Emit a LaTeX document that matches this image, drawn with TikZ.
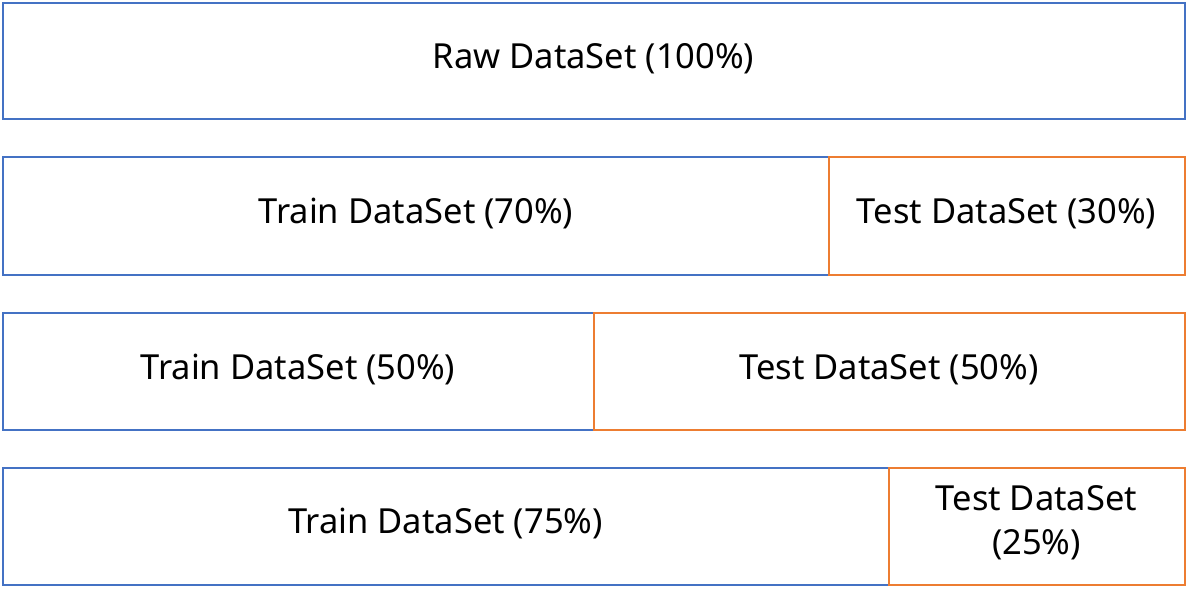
\documentclass[tikz,border=0pt]{standalone}
\usepackage{fontspec}
\setmainfont{Noto Sans}
\definecolor{trainblue}{HTML}{4472C4}
\definecolor{testorange}{HTML}{ED7D31}
\begin{document}
\begin{tikzpicture}[x=1pt,y=-1pt,
  label/.style={inner sep=0pt, align=center, font=\fontsize{34.5}{44}\selectfont},
  trainbox/.style={draw=trainblue, line width=2pt},
  testbox/.style={draw=testorange, line width=2pt}]
\useasboundingbox (0,0) rectangle (1187,595);
% full data set
\draw[trainbox] (2.5,2.5) rectangle (1184.5,119);
\node[label] (raw) at (593.5,59) {Raw DataSet (100\%)};
% 70 / 30 split
\draw[trainbox] (2.5,157) rectangle (829,274.5);
\draw[testbox] (829,157) rectangle (1184.5,274.5);
\node[label] (train70) at (416,214) {Train DataSet (70\%)};
\node[label] (test30) at (1006.5,214) {Test DataSet (30\%)};
% 50 / 50 split
\draw[trainbox] (2.5,313) rectangle (593.5,430);
\draw[testbox] (593.5,313) rectangle (1184.5,430);
\node[label] (train50) at (298,370) {Train DataSet (50\%)};
\node[label] (test50) at (889,370) {Test DataSet (50\%)};
% 75 / 25 split
\draw[trainbox] (2.5,467.5) rectangle (888.5,584.5);
\draw[testbox] (888.5,467.5) rectangle (1184.5,584.5);
\node[label] (train75) at (445.5,524) {Train DataSet (75\%)};
\node[label] (test25) at (1036.5,523) {Test DataSet\\(25\%)};
\end{tikzpicture}
\end{document}
